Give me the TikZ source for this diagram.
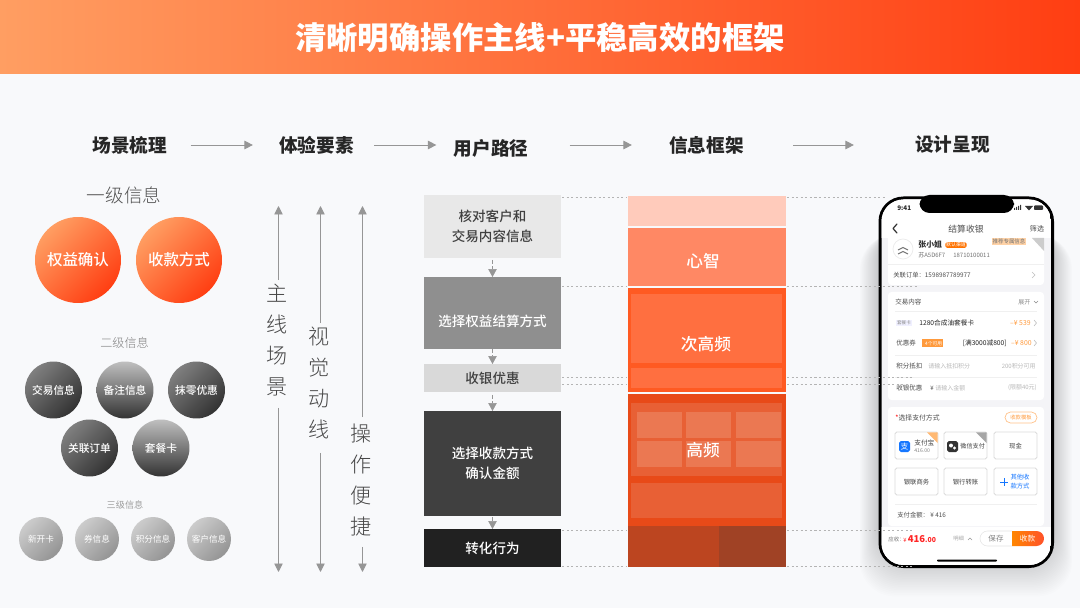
\documentclass[tikz,border=0pt]{standalone}
\usepackage{fontspec}
\usepackage{tikz}
\usetikzlibrary{arrows.meta,positioning,calc,shapes}
\newfontfamily\cjk{Noto Sans CJK SC}
\newfontfamily\cjklight{Noto Sans CJK SC Light}
\newfontfamily\cjkmed{Noto Sans CJK SC Medium}
\newcommand{\pxfont}[2]{\cjk\fontsize{#1}{#2}\selectfont}
\newcommand{\medfont}[2]{\cjkmed\fontsize{#1}{#2}\selectfont}
\definecolor{pagebg}{HTML}{F8F9FB}
\definecolor{orangeL}{HTML}{FF9E62}
\definecolor{orangeR}{HTML}{FF3E12}
\definecolor{arrowgray}{HTML}{969696}
\definecolor{dotgray}{HTML}{B4B4B4}
\definecolor{phonebg}{HTML}{F4F4F7}
\definecolor{priceorange}{HTML}{FF9A3C}
\definecolor{payblue}{HTML}{1677FF}
\tikzset{
	flowarrow/.style={draw=arrowgray,line width=0.5pt,-{Triangle[width=1.7mm,length=1.7mm]}},
	stepline/.style={draw=arrowgray,line width=0.4pt,dash pattern=on 2pt off 1.5pt,-{Triangle[width=1.7mm,length=1.6mm]}},
	dotline/.style={draw=dotgray,line width=0.55pt,dash pattern=on 1.2pt off 1.4pt},
	headtext/.style={font=\pxfont{10.6}{13}\bfseries,text=black!85,inner sep=0pt},
	levelone/.style={circle,minimum size=1.72cm,inner sep=0pt,top color=orangeL,bottom color=orangeR,shading angle=45,text=white,font=\medfont{8.8}{10}},
	leveltwo/.style={circle,minimum size=1.14cm,inner sep=0pt,top color=#1,bottom color=black!80,text=white,font=\medfont{6.1}{8}},
	levelthree/.style={circle,minimum size=0.88cm,inner sep=0pt,top color=black!20,bottom color=black!42,shading angle=45,text=white,font=\pxfont{4.9}{6}},
	sidetext/.style={font=\cjklight\fontsize{12}{17.6}\selectfont,text=black!72,align=center,inner sep=2pt},
	pathbox/.style={minimum width=2.74cm,inner sep=0pt,outer sep=0pt,align=center,font=\medfont{7.7}{11.4}},
	freqtext/.style={text=white,font=\medfont{9.5}{11},inner sep=0pt},
	ptext/.style={inner sep=0pt,anchor=west,text=black!70,font=\pxfont{3.4}{4}},
	pgray/.style={ptext,text=black!28},
	pbutton/.style={draw=black!14,line width=0.5pt,fill=white,rounded corners=1pt},
}
\begin{document}
\begin{tikzpicture}[x=0.02cm,y=-0.02cm]
	\useasboundingbox (0,0) rectangle (1080,608);
	\fill[pagebg] (0,0) rectangle (1080,608);
	\shade[left color=orangeL,right color=orangeR] (0,0) rectangle (1080,74);
	\node[text=white,font=\pxfont{17.85}{20}\bfseries,inner sep=0pt] (title) at (540,38) {清晰明确操作主线+平稳高效的框架};

	% column heads
	\node[headtext] (headScene) at (130,145) {场景梳理};
	\node[headtext] (headElement) at (316.5,145) {体验要素};
	\node[headtext] (headPath) at (491,148) {用户路径};
	\node[headtext] (headFrame) at (706.5,145) {信息框架};
	\node[headtext] (headDesign) at (952.5,145) {设计呈现};
	\draw[flowarrow,shorten <=0.46cm,shorten >=0.52cm] (headScene) -- (headElement);
	\draw[flowarrow,shorten <=0.4cm,shorten >=0.34cm] (headElement.east) -- (headElement.east -| headPath.west);
	\draw[flowarrow,shorten <=0.82cm,shorten >=0.74cm] (headPath.east |- headFrame.east) -- (headFrame.west);
	\draw[flowarrow,shorten <=0.98cm,shorten >=1.22cm] (headFrame.east) -- (headDesign.west);

	% information levels
	\node[text=black!68,font=\cjklight\fontsize{10.6}{12}\selectfont,inner sep=0pt] (levelA) at (124,195) {一级信息};
	\node[levelone] (rights) at (78,260) {权益确认};
	\node[levelone] (payWay) at (179,260) {收款方式};
	\node[text=black!50,font=\cjklight\fontsize{6.9}{8}\selectfont,inner sep=0pt] (levelB) at (124.5,343) {二级信息};
	\node[leveltwo=black!50,shading angle=45] (tradeInfo) at (53.5,390) {交易信息};
	\node[leveltwo=black!25] (noteInfo) at (125,390) {备注信息};
	\node[leveltwo=black!50,shading angle=45] (roundOff) at (196.5,390) {抹零优惠};
	\node[leveltwo=black!50,shading angle=45] (linkOrder) at (89.5,448) {关联订单};
	\node[leveltwo=black!25] (comboCard) at (161,448) {套餐卡};
	\node[text=black!38,font=\pxfont{5.2}{6},inner sep=0pt] (levelC) at (125,505) {三级信息};
	\node[levelthree] (newCard) at (41,539) {新开卡};
	\node[levelthree] (coupon) at (97,539) {券信息};
	\node[levelthree] (points) at (153,539) {积分信息};
	\node[levelthree] (customer) at (209,539) {客户信息};

	% vertical lines
	\node[sidetext] (sideMain) at (277,340) {主\\线\\场\\景};
	\node[sidetext] (sideVisual) at (319,383) {视\\觉\\动\\线};
	\node[sidetext] (sideEasy) at (361,480) {操\\作\\便\\捷};
	\coordinate (mainTop) at (278.5,206);
	\coordinate (mainEnd) at (278.5,572);
	\coordinate (visualTop) at (320.5,206);
	\coordinate (visualEnd) at (320.5,572);
	\coordinate (easyTop) at (362.5,206);
	\coordinate (easyEnd) at (362.5,572);
	\draw[flowarrow] (mainTop |- sideMain.north) -- (mainTop);
	\draw[flowarrow,shorten <=0.16cm] (mainEnd |- sideMain.south) -- (mainEnd);
	\draw[flowarrow] (visualTop |- sideVisual.north) -- (visualTop);
	\draw[flowarrow,shorten <=0.2cm] (visualEnd |- sideVisual.south) -- (visualEnd);
	\draw[flowarrow,shorten <=0.06cm] (easyTop |- sideEasy.north) -- (easyTop);
	\draw[flowarrow,shorten <=0.14cm] (easyEnd |- sideEasy.south) -- (easyEnd);

	% user path
	\node[pathbox,fill=black!9,minimum height=1.26cm,text=black!75] (checkInfo) at (492.5,226.5) {核对客户和\\交易内容信息};
	\node[pathbox,fill=black!44,minimum height=1.44cm] (chooseRights) at (492.5,313) {};
	\node[pathbox,text=white] (chooseRightsText) at (492.5,321) {选择权益结算方式};
	\node[pathbox,fill=black!15,minimum height=0.56cm,text=black!75] (cashDiscount) at (492.5,378) {收银优惠};
	\node[pathbox,fill=black!75,minimum height=2.1cm,text=white] (choosePay) at (492.5,463.5) {选择收款方式\\确认金额};
	\node[pathbox,fill=black!87,minimum height=0.76cm,text=white] (convert) at (492.5,548) {转化行为};
	\draw[stepline,shorten <=0.04cm] (checkInfo) -- (chooseRights);
	\draw[stepline] (chooseRights) -- (cashDiscount);
	\draw[stepline,shorten <=0.06cm] (cashDiscount) -- (choosePay);
	\draw[stepline,shorten <=0.02cm] (choosePay) -- (convert);

	% frame column
	\fill[fill={rgb,255:red,255;green,203;blue,187}] (628,196) rectangle (786,226);
	\fill[fill={rgb,255:red,255;green,136;blue,100}] (628,228) rectangle (786,286);
	\fill[fill={rgb,255:red,255;green,90;blue,34}] (628,288) rectangle (786,392);
	\fill[fill={rgb,255:red,255;green,111;blue,64}] (631,294) rectangle (782,363);
	\fill[fill={rgb,255:red,255;green,111;blue,64}] (631,368) rectangle (782,388);
	\fill[fill={rgb,255:red,232;green,74;blue,24}] (628,394) rectangle (786,526);
	\fill[fill={rgb,255:red,232;green,96;blue,53}] (631,403) rectangle (782,476);
	\fill[fill={rgb,255:red,232;green,96;blue,53}] (631,483) rectangle (782,518);
	\fill[fill={rgb,255:red,235;green,120;blue,82}] (637,412) rectangle (682,438);
	\fill[fill={rgb,255:red,235;green,120;blue,82}] (686,412) rectangle (731,438);
	\fill[fill={rgb,255:red,235;green,120;blue,82}] (736,412) rectangle (781,438);
	\fill[fill={rgb,255:red,235;green,120;blue,82}] (637,441) rectangle (682,467);
	\fill[fill={rgb,255:red,235;green,120;blue,82}] (686,441) rectangle (731,467);
	\fill[fill={rgb,255:red,235;green,120;blue,82}] (736,441) rectangle (781,467);
	\fill[fill={rgb,255:red,188;green,69;blue,32}] (628,526) rectangle (719,567);
	\fill[fill={rgb,255:red,160;green,66;blue,37}] (719,526) rectangle (786,567);
	\node[freqtext] (freqMind) at (703,261) {心智};
	\node[freqtext] (freqSecond) at (706,344) {次高频};
	\node[freqtext] (freqHigh) at (703,450) {高频};

	% phone
	\foreach \r in {1,...,24}
		\fill[black,opacity=0.009,rounded corners=0.7cm] ({879-\r*0.8},{225+\r*0.4}) rectangle ({1053+\r*0.8},{558+\r*1.6});
	\fill[black,rounded corners=0.5cm] (878.5,196.5) rectangle (1054,568);
	\begin{scope}
		\clip[rounded corners=0.44cm] (881.5,199.5) rectangle (1051,565);
		\fill[phonebg] (881,199) rectangle (1051,565);
		\fill[white] (881,199) rectangle (1051,238);
		\fill[white] (881,527) rectangle (1051,565);
		\fill[white,rounded corners=2pt] (888,234) rectangle (1044,285);
		\fill[white,rounded corners=2pt] (888,292) rectangle (1044,400);
		\fill[white,rounded corners=2pt] (888,407) rectangle (1044,526);
		\fill[black!20] (1032,238) -- (1044,238) -- (1044,251) -- cycle;
		\draw[black!6,line width=0.3pt] (888,264) -- (1044,264);
		\draw[black!6,line width=0.3pt] (895,311) -- (1037,311);
		\draw[black!6,line width=0.3pt] (895,355) -- (1037,355);
		\draw[black!6,line width=0.3pt] (895,377) -- (1037,377);
		\draw[black!6,line width=0.3pt] (895,504) -- (1037,504);
	\end{scope}
	\fill[black,rounded corners=0.2cm] (919.5,195) rectangle (1014,213);
	\node[ptext,text=black!85,font=\pxfont{3.6}{4}\bfseries] (clock) at (897,208) {9:41};
	\fill[black!80] (1014,208) rectangle (1015,210) (1016,207) rectangle (1017,210) (1018,206) rectangle (1019,210) (1020,205) rectangle (1021,210);
	\fill[black!80] (1025,206) -- (1033,206) -- (1029,210.5) -- cycle;
	\fill[black!80,rounded corners=0.5pt] (1034,205.5) rectangle (1043,210);
	\draw[black!80,line width=0.7pt,line cap=round,line join=round] (897,224) -- (893,228.5) -- (897,233);
	\node[ptext,anchor=center,font=\pxfont{5}{6}] (navTitle) at (966,229) {结算收银};
	\node[ptext,anchor=center,font=\pxfont{4}{5}] (navFilter) at (1037,229) {筛选};

	% customer card
	\node[circle,draw=black!8,fill=white,minimum size=0.4cm,inner sep=0pt] (avatar) at (903,249) {};
	\draw[black!55,line width=0.6pt] (898,250) -- (903,247.5) -- (908,250);
	\draw[black!55,line width=0.6pt] (898,254) -- (903,251.5) -- (908,254);
	\node[ptext,font=\pxfont{4.5}{5}\bfseries,text=black!80] (custName) at (918,245) {张小姐};
	\node[fill=orange!90!red,rounded corners=1pt,inner sep=0.4pt,text=white,font=\pxfont{2.8}{3}] (custTag) at (956,245) {默认渠道};
	\node[fill=orange!35,inner sep=0.5pt,text=black!55,font=\pxfont{3.1}{4}] (custAdvice) at (1009,241.5) {推荐专属信息};
	\node[ptext,text=black!55] (custPlate) at (918,255) {苏A5D6F7};
	\node[ptext,text=black!55] (custPhone) at (953,255) {18710100011};
	\node[ptext,font=\pxfont{3.6}{4}] (custOrder) at (893,275) {关联订单：1598987789977};
	\draw[black!25,line width=0.35pt] (1032,272) -- (1035,275) -- (1032,278);

	% trade card
	\node[ptext,font=\pxfont{3.7}{4}] (tradeTitle) at (895,302) {交易内容};
	\node[ptext,text=black!45] (tradeOpen) at (1018,302) {展开};
	\draw[black!45,line width=0.35pt] (1034,301) -- (1036,303) -- (1038,301);
	\node[fill=blue!6,inner sep=0.6pt,text=black!45,font=\pxfont{2.6}{3}] (tradeCard) at (904,323) {套餐卡};
	\node[ptext,text=black!85,font=\pxfont{3.8}{4}] (tradeName) at (919,323) {1280合成油套餐卡};
	\node[ptext,anchor=east,text=priceorange,font=\pxfont{3.9}{4}] (tradeCost) at (1031,323) {–¥ 539};
	\draw[black!25,line width=0.35pt] (1034,320) -- (1036.5,323) -- (1034,326);
	\node[ptext,font=\pxfont{3.7}{4}] (couponTitle) at (896,343) {优惠券};
	\node[fill=priceorange,inner sep=0.7pt,text=white,font=\pxfont{2.7}{3}] (couponTag) at (932.5,343) {\rule{0pt}{3pt}\ \ 4个可用};
	\node[ptext,anchor=east,text=black!85,font=\pxfont{3.8}{4}] (couponName) at (1007,343) {[满3000减800]};
	\node[ptext,anchor=east,text=priceorange,font=\pxfont{3.9}{4}] (couponCost) at (1032,343) {–¥ 800};
	\draw[black!25,line width=0.35pt] (1034,340) -- (1036.5,343) -- (1034,346);
	\node[ptext,font=\pxfont{3.7}{4}] (pointTitle) at (896,366) {积分抵扣};
	\node[pgray,font=\pxfont{3.4}{4}] (pointHint) at (928,366) {请输入抵扣积分};
	\node[pgray,anchor=east,font=\pxfont{3.4}{4}] (pointUse) at (1036,366) {200积分可用};
	\node[ptext,font=\pxfont{3.7}{4}] (cashTitle) at (896,388) {收银优惠};
	\node[ptext,font=\pxfont{3.4}{4}] (cashSign) at (930,388) {¥};
	\node[pgray,font=\pxfont{3.4}{4}] (cashHint) at (935,388) {请输入金额};
	\node[pgray,anchor=east,font=\pxfont{3.4}{4}] (cashLimit) at (1037,388) {(限额40元)};

	% pay card
	\node[ptext,font=\pxfont{3.9}{4}] (payTitle) at (895,418) {\textcolor{red}{*}选择支付方式};
	\node[draw=priceorange!60,rounded corners=0.11cm,minimum width=0.64cm,minimum height=0.22cm,inner sep=0pt,text=priceorange,font=\pxfont{3}{4}] (payModel) at (1021,417.5) {收款模板};
	\draw[pbutton] (895,432) rectangle (938,459);
	\draw[pbutton] (944,432) rectangle (987,459);
	\draw[pbutton] (994,432) rectangle (1037,459);
	\draw[pbutton] (895,468) rectangle (938,495);
	\draw[pbutton] (944,468) rectangle (987,495);
	\draw[pbutton] (994,468) rectangle (1037,495);
	\fill[orange!55] (927,432.3) -- (937.7,432.3) -- (937.7,443) -- cycle;
	\fill[black!35] (976,432.3) -- (986.7,432.3) -- (986.7,443) -- cycle;
	\fill[payblue,rounded corners=1pt] (899,441) rectangle (910,452);
	\node[inner sep=0pt,text=white,font=\pxfont{4.4}{5}] (alipayIcon) at (904.5,446.5) {支};
	\node[ptext,text=black!75,font=\pxfont{3.8}{4}] (alipayName) at (914,443) {支付宝};
	\node[ptext,text=black!50,font=\pxfont{2.9}{3}] (alipaySum) at (914,451) {416.00};
	\fill[black!80,rounded corners=1pt] (947,441) rectangle (958,452);
	\fill[white] (951,445.5) circle (2);
	\fill[white] (954.5,448) circle (1.6);
	\node[ptext,text=black!75,font=\pxfont{3.5}{4}] (wechatName) at (960,446) {微信支付};
	\node[ptext,anchor=center,text=black!75,font=\pxfont{3.6}{4}] (cashName) at (1015.5,446) {现金};
	\node[ptext,anchor=center,text=black!75,font=\pxfont{3.6}{4}] (unionName) at (916.5,482) {银联商务};
	\node[ptext,anchor=center,text=black!75,font=\pxfont{3.6}{4}] (bankName) at (965.5,482) {银行转账};
	\draw[payblue,line width=0.5pt] (1000,482) -- (1008,482) (1004,478) -- (1004,486);
	\node[ptext,anchor=center,align=center,text=payblue,font=\pxfont{3.6}{5.2}] (otherName) at (1020,482) {其他收\\款方式};
	\node[ptext,font=\pxfont{3.6}{4}] (paySum) at (897,515) {支付金额： ¥ 416};

	% bottom bar
	\node[ptext,text=black!55,font=\pxfont{3.1}{4}] (dueTitle) at (888,539) {应收：};
	\node[ptext,text=red!85,font=\pxfont{3.3}{4}] (dueSum) at (903,539.5) {¥ \fontsize{5.4}{6}\selectfont\bfseries 416\fontsize{3.9}{4}\selectfont .00};
	\node[pgray,text=black!35,font=\pxfont{3}{4}] (dueDetail) at (953,539) {明细};
	\draw[black!40,line width=0.35pt] (968,540) -- (970,538) -- (972,540);
	\begin{scope}
		\clip[rounded corners=0.15cm] (980,531) rectangle (1044,546);
		\fill[white] (980,531) rectangle (1012,546);
		\shade[left color=orange!95!yellow,right color=orangeR!90] (1012,531) rectangle (1044,546);
	\end{scope}
	\draw[black!10,line width=0.3pt,rounded corners=0.15cm] (1012,531) -- (980,531) -- (980,546) -- (1012,546);
	\node[ptext,anchor=center,text=black!50,font=\pxfont{4.3}{5}] (saveBtn) at (996,538.5) {保存};
	\node[ptext,anchor=center,text=white,font=\pxfont{4.3}{5}] (payBtn) at (1027.5,538.5) {收款};
	\fill[black,rounded corners=0.5pt] (937,559.5) rectangle (997,561.5);

	% dotted guides
	\draw[dotline] (562,197) -- (627,197);
	\draw[dotline] (787,197) -- (886,197);
	\draw[dotline] (562,286) -- (627,286);
	\draw[dotline] (787,286) -- (918,286);
	\draw[dotline] (562,377) -- (627,377);
	\draw[dotline] (787,377) -- (913,377);
	\draw[dotline] (562,384) -- (627,384);
	\draw[dotline] (787,384) -- (913,384);
	\draw[dotline] (562,530) -- (627,530);
	\draw[dotline] (787,530) -- (913,530);
	\draw[dotline] (562,566) -- (627,566);
	\draw[dotline] (787,566) -- (913,566);
\end{tikzpicture}
\end{document}
